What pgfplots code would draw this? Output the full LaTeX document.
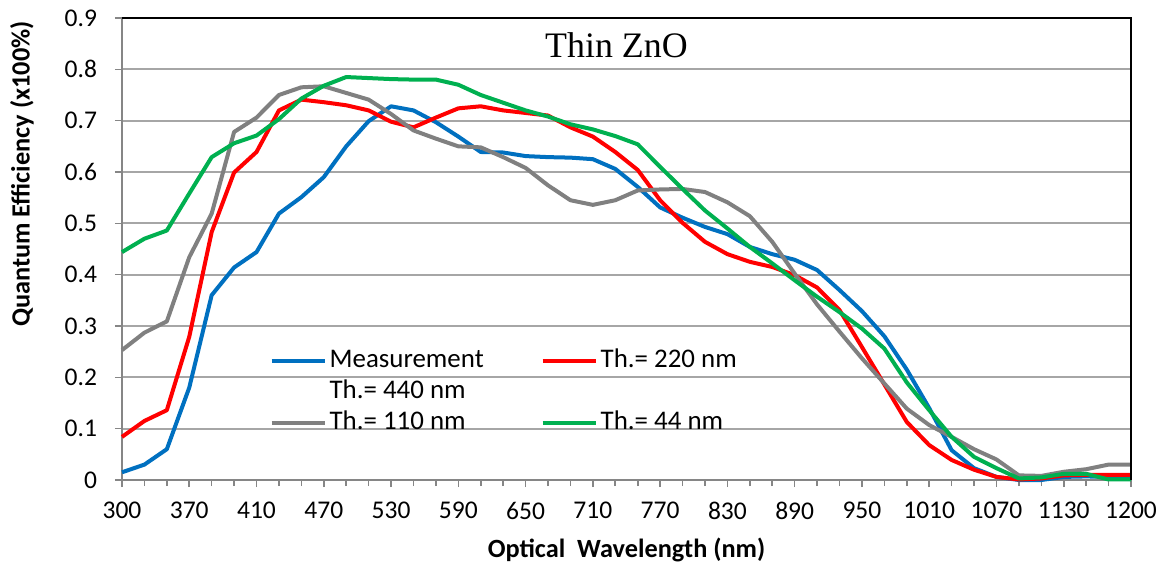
\documentclass[border=0pt]{standalone}
\usepackage{fontspec}
\setmainfont{Carlito}
\newfontfamily\timesfont{Liberation Serif}
\usepackage{pgfplots}
\usepackage{pgfplotstable}
\pgfplotsset{compat=1.18}

\definecolor{meas}{RGB}{0,112,192}
\definecolor{red220}{RGB}{255,0,0}
\definecolor{gray110}{RGB}{128,128,128}
\definecolor{green44}{RGB}{0,176,80}
\definecolor{gridc}{RGB}{166,166,166}
\definecolor{axisc}{RGB}{134,134,134}

% idx = category position on the axis (labels below)
\pgfplotstableread{
idx meas  t220  t110  t44
0   0.015 0.084 0.253 0.444
1   0.030 0.115 0.287 0.470
2   0.060 0.136 0.309 0.486
3   0.180 0.279 0.434 0.558
4   0.360 0.483 0.519 0.629
5   0.414 0.599 0.678 0.656
6   0.444 0.639 0.706 0.671
7   0.519 0.720 0.750 0.703
8   0.551 0.741 0.765 0.743
9   0.590 0.736 0.767 0.768
10  0.650 0.730 0.754 0.785
11  0.699 0.720 0.741 0.783
12  0.728 0.698 0.713 0.781
13  0.720 0.687 0.681 0.780
14  0.697 0.706 0.665 0.780
15  0.669 0.724 0.650 0.770
16  0.639 0.728 0.648 0.750
17  0.638 0.720 0.629 0.735
18  0.631 0.715 0.608 0.720
19  0.629 0.710 0.574 0.708
20  0.628 0.687 0.545 0.693
21  0.625 0.669 0.536 0.683
22  0.606 0.639 0.545 0.670
23  0.571 0.604 0.564 0.654
24  0.531 0.545 0.566 0.610
25  0.511 0.501 0.567 0.567
26  0.493 0.464 0.561 0.525
27  0.479 0.440 0.541 0.490
28  0.454 0.425 0.514 0.454
29  0.440 0.415 0.464 0.422
30  0.429 0.399 0.402 0.389
31  0.409 0.375 0.342 0.357
32  0.370 0.331 0.289 0.327
33  0.329 0.259 0.237 0.295
34  0.280 0.186 0.188 0.256
35  0.215 0.113 0.139 0.190
36  0.140 0.068 0.107 0.136
37  0.058 0.039 0.084 0.084
38  0.023 0.020 0.060 0.045
39  0.006 0.006 0.040 0.023
40  0.000 0.001 0.009 0.003
41  0.000 0.003 0.008 0.005
42  0.006 0.009 0.016 0.012
43  0.007 0.010 0.021 0.012
44  0.006 0.010 0.030 0.001
45  0.006 0.010 0.030 0.001
}\qedata

\begin{document}
\begin{tikzpicture}
\begin{axis}[
  scale only axis,
  width=504.5bp, height=231bp,
  xmin=0, xmax=45, ymin=0, ymax=0.9,
  clip=false,
  axis x line*=bottom, axis y line*=left,
  axis line style={axisc, line width=1bp, -},
  tick style={axisc, line width=0.8bp},
  tick align=outside,
  major tick length=3.5bp, minor tick length=3bp,
  xtick={0,3,...,45},
  xticklabels={300,370,410,470,530,590,650,710,770,830,890,950,1010,1070,1130,1200},
  minor xtick={0,...,45},
  ytick={0,0.1,0.2,0.3,0.4,0.5,0.6,0.7,0.8,0.9},
  yticklabels={0,0.1,0.2,0.3,0.4,0.5,0.6,0.7,0.8,0.9},
  ymajorgrids,
  grid style={gridc, line width=0.9bp},
  ticklabel style={font=\fontsize{12.8}{14}\selectfont},
  xticklabel style={yshift=-4bp},
  yticklabel style={xshift=-5.5bp},
  xlabel={Optical\ \ Wavelength (nm)},
  ylabel={Quantum Efficiency (x100\%)},
  label style={font=\bfseries\fontsize{13.2}{15}\selectfont},
  xlabel style={at={(rel axis cs:0.5,-0.1515)}, anchor=center},
  ylabel style={at={(rel axis cs:-0.0991,0.662)}, anchor=center},
  legend columns=2,
  legend cell align=left,
  legend image code/.code={\draw[#1] (0bp,0bp) -- (26.5bp,0bp);},
  legend style={draw=none, fill=none,
    font=\fontsize{13.5}{15}\selectfont,
    at={(rel axis cs:0.140,0.30)}, anchor=north west,
    nodes={inner sep=1.5bp, text height=9.5bp, text depth=3bp},
    /tikz/every even column/.append style={column sep=27bp}},
  every axis plot/.append style={line width=2bp, line join=round},
]
\addplot[meas] table[x=idx, y=meas] {\qedata};
\addlegendentry{Measurement}
\addplot[red220] table[x=idx, y=t220] {\qedata};
\addlegendentry{Th.= 220 nm}
\addlegendimage{empty legend}
\addlegendentry{Th.= 440 nm}
\addlegendimage{empty legend}
\addlegendentry{}
\addplot[gray110] table[x=idx, y=t110] {\qedata};
\addlegendentry{Th.= 110 nm}
\addplot[green44] table[x=idx, y=t44] {\qedata};
\addlegendentry{Th.= 44 nm}

\draw[black, line width=1bp] (rel axis cs:0,1) -- (rel axis cs:1,1) -- (rel axis cs:1,0);
\node[font=\timesfont\fontsize{18}{20}\selectfont] at (rel axis cs:0.49,0.94) {Thin ZnO};

\coordinate (bl) at (rel axis cs:-0.1209,-0.1797);
\coordinate (tr) at (rel axis cs:1.0327,1.0390);
\end{axis}
\pgfresetboundingbox
\path (bl) rectangle (tr);
\end{tikzpicture}
\end{document}
